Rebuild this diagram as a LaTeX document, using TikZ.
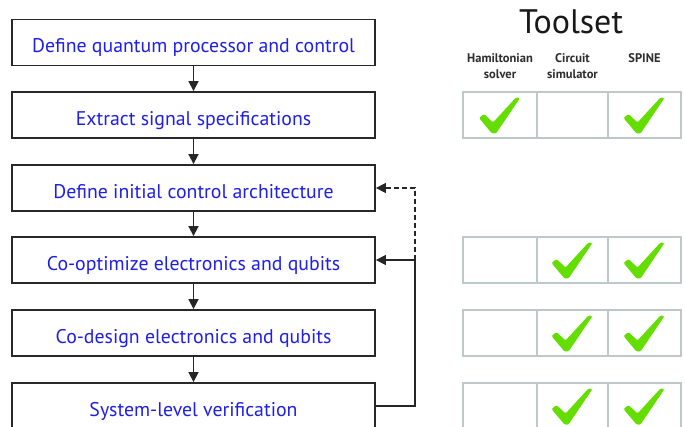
\documentclass[tikz,border=0pt]{standalone}
\usepackage{fontspec}
\setmainfont{PT Sans}
\usetikzlibrary{arrows.meta,positioning}
\definecolor{txtblue}{RGB}{30,30,235}
\definecolor{boxline}{RGB}{40,40,40}
\definecolor{gridline}{RGB}{190,200,200}
\definecolor{chkgreen}{RGB}{100,222,0}
\definecolor{hdrgray}{RGB}{45,45,45}
\begin{document}
\begin{tikzpicture}[x=1pt,y=-1pt,
  stepbox/.style={draw=boxline, line width=1.8pt, minimum width=363pt, minimum height=46pt,
    inner sep=0pt, text height=21pt, text depth=0pt, text=txtblue, font=\fontsize{19.8}{22}\selectfont},
  cell/.style={draw=gridline, line width=1.6pt, minimum height=46pt, inner sep=0pt},
  flow/.style={line width=1.6pt, draw=black!85, -{Triangle[length=10pt,width=10pt]}},
  hdr/.style={text=hdrgray, font=\fontsize{12.5}{16}\selectfont\bfseries, align=center},
  chk/.pic={\fill[chkgreen, rounded corners=1.2pt] (-21,3) -- (-16,-1) -- (-7,7.5) -- (16,-17.5) -- (20,-17) -- (-4,18.5) -- (-8,18.5) -- cycle;}
]
\useasboundingbox (0,0) rectangle (685,427);
\clip (0,0) rectangle (685,427);
% flow boxes
\node[stepbox] (b1) at (193.5,42.5) {Define quantum processor and control};
\node[stepbox] (b2) at (193.5,115) {Extract signal specifications};
\node[stepbox] (b3) at (193.5,188) {Define initial control architecture};
\node[stepbox] (b4) at (193.5,260) {Co-optimize electronics and qubits};
\node[stepbox] (b5) at (193.5,333) {Co-design electronics and qubits};
\node[stepbox] (b6) at (193.5,406) {System-level verification};
\draw[flow] (b1) -- (b2);
\draw[flow] (b2) -- (b3);
\draw[flow] (b3) -- (b4);
\draw[flow] (b4) -- (b5);
\draw[flow] (b5) -- (b6);
\coordinate (fb) at (415,260);
\draw[flow] (b6.east) -| (fb) -- (b4.east);
\draw[flow, dashed, dash pattern=on 5pt off 3pt] (fb) |- (b3.east);
% toolset
\node[font=\fontsize{34}{38}\selectfont, text=black!90] (title) at (571,22) {Toolset};
\node[hdr] (h1) at (500,66) {Hamiltonian\\solver};
\node[hdr] (h2) at (572.5,66) {Circuit\\simulator};
\node[hdr, anchor=north] (h3) at (644.5,50) {SPINE};
\foreach \r/\y in {1/115,2/260,3/333,4/406}{
  \node[cell, minimum width=74pt] (c\r a) at (500,\y) {};
  \node[cell, minimum width=71pt] (c\r b) at (572.5,\y) {};
  \node[cell, minimum width=73pt] (c\r c) at (644.5,\y) {};
}
\pic at (c1a) {chk};
\pic at (c1c) {chk};
\foreach \r in {2,3,4}{
  \pic at (c\r b) {chk};
  \pic at (c\r c) {chk};
}
\end{tikzpicture}
\end{document}
